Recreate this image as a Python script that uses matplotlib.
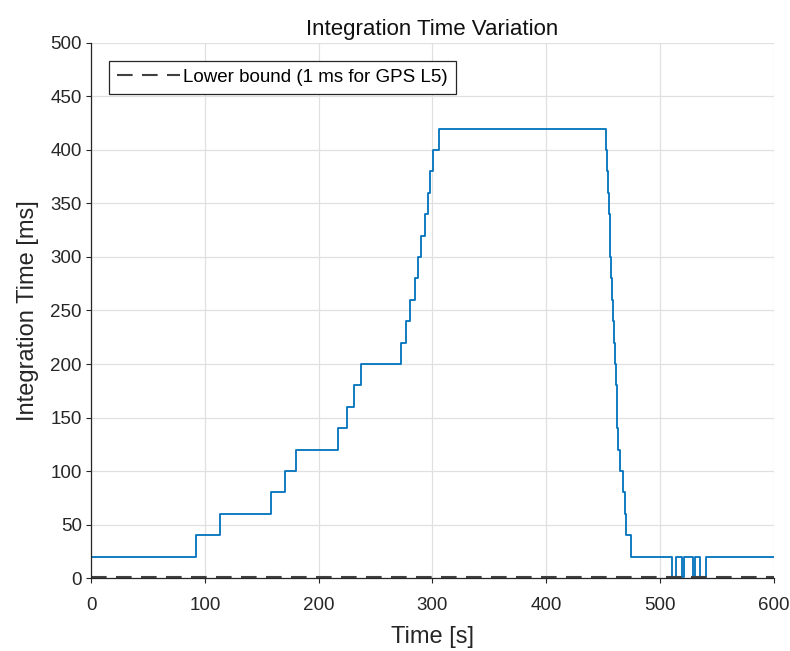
import matplotlib.pyplot as plt

# step change times [s] and the integration time [ms] held from each time on
times = [0, 92, 113, 158, 170, 180, 217, 225, 231, 237,
         272, 277, 280, 285, 287, 290, 293, 296, 298, 300.5, 306,
         452.5, 453.3, 454.0, 454.8, 455.6, 456.3, 457.1, 457.9,
         458.7, 459.4, 460.2, 461.0, 461.7, 462.5, 463.3,
         465, 467.5, 469, 470, 474.5,
         510, 514, 519, 521, 529, 531, 535, 540, 600]
int_time = [20, 40, 60, 80, 100, 120, 140, 160, 180, 200,
            220, 240, 260, 280, 300, 320, 340, 360, 380, 400, 420,
            400, 380, 360, 340, 320, 300, 280, 260,
            240, 220, 200, 180, 160, 140, 120,
            100, 80, 60, 40, 20,
            1, 20, 1, 20, 1, 20, 1, 20, 20]

lower_bound = 1  # ms, GPS L5
xlim = [0, 600]
ylim = [0, 500]

plt.rcParams['font.family'] = ['Liberation Sans', 'DejaVu Sans']

fig = plt.figure(figsize=(7.9, 6.51), dpi=100)
ax = fig.add_axes([0.1152, 0.1121, 0.8645, 0.8219])

ax.plot(times, int_time, drawstyle='steps-post', color='#0072BD', lw=1.3)
ax.plot(xlim, [lower_bound, lower_bound], '--', color='#404040', lw=1.5,
        dashes=(7.5, 4.5), label='Lower bound (1 ms for GPS L5)')

ax.set_xlim(xlim)
ax.set_ylim(ylim)
ax.set_xticks(range(0, 601, 100))
ax.set_yticks(range(0, 501, 50))
ax.grid(True, color='#e0e0e0', lw=0.9)
ax.set_axisbelow(True)
ax.tick_params(direction='out', length=3.5, labelsize=13.5, colors='#262626')
ax.tick_params(axis='x', pad=10)
ax.tick_params(axis='y', pad=3)
for side in ['top', 'right']:
    ax.spines[side].set_visible(False)
for side in ['left', 'bottom']:
    ax.spines[side].set_color('#262626')
    ax.spines[side].set_linewidth(0.9)

ax.set_title('Integration Time Variation', fontsize=16,
             color='#111111', pad=6)
ax.set_xlabel('Time [s]', fontsize=17, color='#262626', labelpad=9)
ax.set_ylabel('Integration Time [ms]', fontsize=17, color='#262626', labelpad=8)

leg = ax.legend(loc='upper left', fontsize=13.5, fancybox=False, framealpha=1,
                edgecolor='#262626', borderaxespad=0.95, handlelength=3.4,
                handletextpad=0.15, borderpad=0.42)
leg.get_frame().set_linewidth(0.9)

fig.savefig('out.png', dpi=100)
